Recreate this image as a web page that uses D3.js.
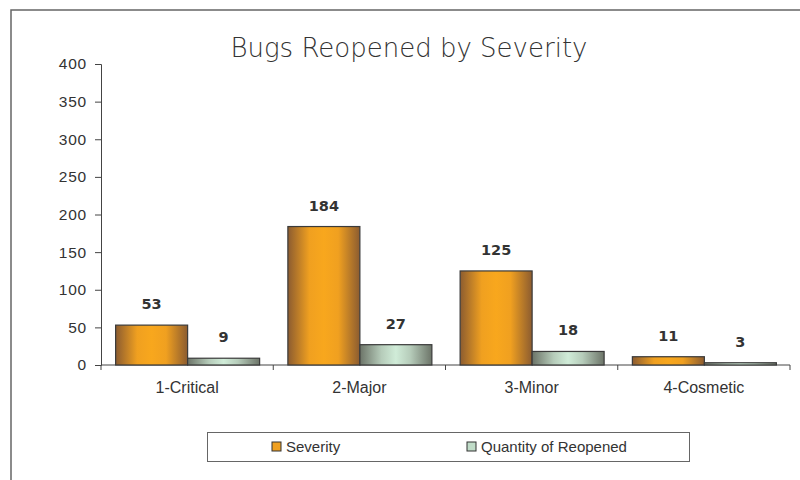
<!DOCTYPE html>
<html><head><meta charset="utf-8">
<script src="https://cdn.jsdelivr.net/npm/d3@7"></script>
<style>body{margin:0;background:#fff}svg{display:block}</style>
</head><body>
<svg id="c" width="800" height="480"></svg>
<script>
const categories = ["1-Critical", "2-Major", "3-Minor", "4-Cosmetic"];
const seriesNames = ["Severity", "Quantity of Reopened"];
const severity = [53, 184, 125, 11];
const reopened = [9, 27, 18, 3];
const yTicks = [0, 50, 100, 150, 200, 250, 300, 350, 400];
const title = "Bugs Reopened by Severity";

const svg = d3.select("#c");
const defs = svg.append("defs");
function grad(id, edge, mid, mid2) {
  const g = defs.append("linearGradient").attr("id", id).attr("x1", 0).attr("x2", 1).attr("y1", 0).attr("y2", 0);
  [[0, edge], [0.3, mid2], [0.5, mid], [0.7, mid2], [1, edge]].forEach(([o, c]) =>
    g.append("stop").attr("offset", o).attr("stop-color", c));
}
grad("gO", "#8c5c30", "#f8a71d", "#f0a020");
grad("gT", "#6c7468", "#d0ecd8", "#b6ccba");

// frame
svg.append("rect").attr("x", 11).attr("y", 10).attr("width", 820).attr("height", 500)
  .attr("fill", "none").attr("stroke", "#666").attr("stroke-width", 1.5);

const x = d3.scaleBand().domain(categories).range([101, 790]).padding(0);
const y = d3.scaleLinear().domain([0, 400]).range([365, 64]);
const barW = x.bandwidth() * 0.418;
const off = (x.bandwidth() - 2 * barW) / 2 + 0.5;

svg.append("text").attr("x", 409).attr("y", 57).attr("text-anchor", "middle")
  .attr("font-family", "DejaVu Sans").attr("font-size", 26).attr("fill", "#333")
  .attr("font-weight", 300).text(title);

// y axis
const ya = svg.append("g").attr("transform", "translate(101,0)")
  .call(d3.axisLeft(y).tickValues(yTicks).tickSize(6).tickPadding(8));
ya.select(".domain").attr("stroke", "#444");
ya.selectAll(".tick line").attr("stroke", "#444");
ya.selectAll("text").attr("font-family", "Liberation Sans, Arial").attr("font-size", 15.5)
  .attr("letter-spacing", 0.8).attr("fill", "#333");

// x axis
const xa = svg.append("g").attr("transform", "translate(0,365)")
  .call(d3.axisBottom(x).tickSize(0).tickPadding(17));
xa.select(".domain").attr("stroke", "#444").attr("d", "M101,0H790");
xa.selectAll("text").attr("font-family", "Liberation Sans Narrow, Liberation Sans, Arial")
  .attr("font-size", 16).attr("fill", "#333");
// category boundary ticks
const bounds = categories.map(c => x(c)).concat([x(categories[categories.length-1]) + x.bandwidth()]);
xa.selectAll(".bt").data(bounds).enter().append("line").attr("class", "bt")
  .attr("x1", d => d).attr("x2", d => d).attr("y1", 0).attr("y2", 5).attr("stroke", "#444");

const data = categories.map((c, i) => ({ c, v: [severity[i], reopened[i]] }));
const fills = ["url(#gO)", "url(#gT)"];
const g = svg.append("g");
data.forEach(d => {
  d.v.forEach((v, j) => {
    const bx = x(d.c) + off + j * barW;
    g.append("rect").attr("x", bx).attr("y", y(v)).attr("width", barW).attr("height", y(0) - y(v))
      .attr("fill", fills[j]).attr("stroke", "#3a3a3a").attr("stroke-width", 1.2);
    g.append("text").attr("x", bx + barW / 2).attr("y", y(v) - 16).attr("text-anchor", "middle")
      .attr("font-family", "DejaVu Sans").attr("font-weight", "bold").attr("font-size", 14.5)
      .attr("fill", "#333").text(v);
  });
});

// legend
const lg = svg.append("g");
lg.append("rect").attr("x", 207.5).attr("y", 432.5).attr("width", 482).attr("height", 29)
  .attr("fill", "#fff").attr("stroke", "#666").attr("stroke-width", 1);
const lx = [272, 467];
seriesNames.forEach((n, i) => {
  lg.append("rect").attr("x", lx[i]).attr("y", 442).attr("width", 9).attr("height", 9)
    .attr("fill", i === 0 ? "#f0a020" : "#c0dcc8").attr("stroke", "#333").attr("stroke-width", 1);
  lg.append("text").attr("x", lx[i] + 14).attr("y", 452).attr("font-family", "Liberation Sans, Arial")
    .attr("font-size", 15).attr("fill", "#333").text(n);
});
</script>
</body></html>
